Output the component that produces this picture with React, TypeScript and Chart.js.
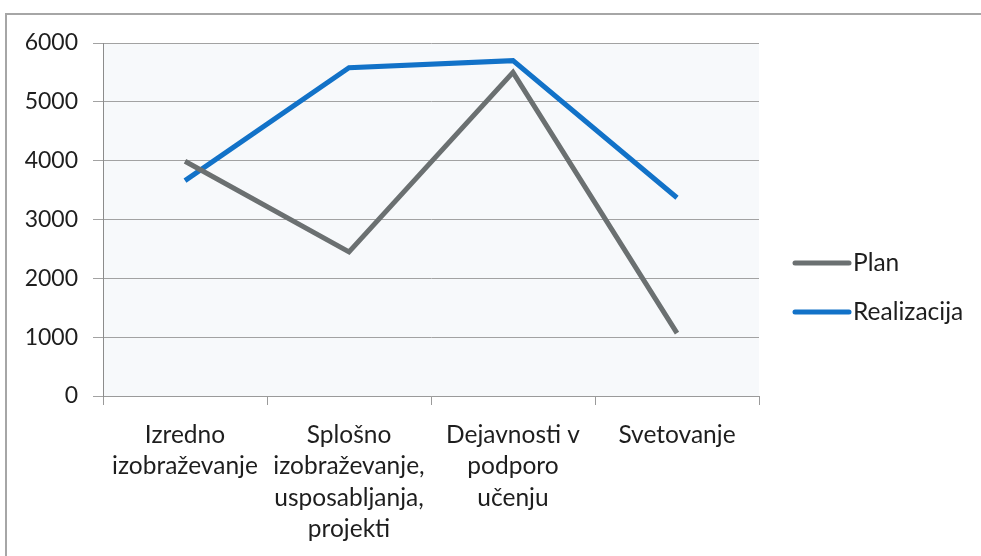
import React, { useEffect, useRef } from "react";
import { Chart, registerables } from "chart.js";

Chart.register(...registerables);

const categories: string[][] = [
  ["Izredno", "izobraževanje"],
  ["Splošno", "izobraževanje,", "usposabljanja,", "projekti"],
  ["Dejavnosti v", "podporo", "učenju"],
  ["Svetovanje"],
];
const planValues = [3990, 2450, 5500, 1070];
const realizacijaValues = [3660, 5580, 5700, 3370];
const yTicks = [0, 1000, 2000, 3000, 4000, 5000, 6000];

const FONT = "Lato";
const FONT_SIZE = 24.5;
const Y_FONT_SIZE = 23;
const TEXT = "#1e1e1e";

const legendPlugin = {
  id: "customLegend",
  afterDraw(chart: any) {
    const ctx = chart.ctx;
    const items = chart.data.datasets;
    const ys = [263, 312];
    ctx.save();
    items.forEach((ds: any, i: number) => {
      const y = ys[i];
      ctx.strokeStyle = ds.borderColor;
      ctx.lineWidth = 5;
      ctx.lineCap = "round";
      ctx.beginPath();
      ctx.moveTo(795, y);
      ctx.lineTo(849, y);
      ctx.stroke();
      ctx.fillStyle = TEXT;
      ctx.font = `${FONT_SIZE}px ${FONT}`;
      ctx.textBaseline = "middle";
      ctx.textAlign = "left";
      ctx.fillText(ds.label, 853, y);
    });
    ctx.restore();
  },
};

const plotBgPlugin = {
  id: "plotBg",
  beforeDraw(chart: any) {
    const { ctx, chartArea } = chart;
    ctx.save();
    ctx.fillStyle = "#f7f9fb";
    ctx.fillRect(chartArea.left, chartArea.top, chartArea.right - chartArea.left, chartArea.bottom - chartArea.top);
    ctx.restore();
  },
};

export default function App() {
  const ref = useRef<HTMLCanvasElement | null>(null);
  useEffect(() => {
    if (!ref.current) return;
    const chart = new Chart(ref.current, {
      type: "line",
      data: {
        labels: categories,
        datasets: [
          {
            label: "Plan",
            data: planValues,
            borderColor: "#6b7071",
            backgroundColor: "#6b7071",
            borderWidth: 5,
            pointRadius: 0,
            tension: 0,
          },
          {
            label: "Realizacija",
            data: realizacijaValues,
            borderColor: "#1272c8",
            backgroundColor: "#1272c8",
            borderWidth: 5,
            pointRadius: 0,
            tension: 0,
          },
        ],
      },
      options: {
        animation: false,
        responsive: true,
        maintainAspectRatio: false,
        layout: { padding: { top: 43, right: 222, left: 0, bottom: 0 } },
        plugins: {
          legend: { display: false },
          tooltip: { enabled: false },
        },
        scales: {
          x: {
            offset: true,
            grid: { offset: true, drawOnChartArea: false, tickLength: 9, color: "#9a9a9a" },
            border: { color: "#9a9a9a" },
            ticks: {
              color: TEXT,
              font: { family: FONT, size: FONT_SIZE, lineHeight: "31.5px" as any },
              padding: 14,
              maxRotation: 0,
              autoSkip: false,
            },
            afterFit(scale: any) {
              scale.height = 160;
            },
          },
          y: {
            min: 0,
            max: 6000,
            afterBuildTicks(scale: any) {
              scale.ticks = yTicks.map((v) => ({ value: v }));
            },
            grid: { color: "#a2a2a2", tickLength: 10 },
            border: { color: "#8c8c8c" },
            ticks: {
              color: TEXT,
              font: { family: FONT, size: Y_FONT_SIZE },
              padding: 15,
              callback: (v: any) => String(v),
            },
            afterFit(scale: any) {
              scale.width = 103;
            },
          },
        },
      },
      plugins: [plotBgPlugin, legendPlugin],
    });
    return () => chart.destroy();
  }, []);
  return (
    <div style={{ position: "fixed", left: 0, top: 0, width: 981, height: 556, background: "#fff" }}>
      <div
        style={{
          position: "absolute",
          left: 5,
          top: 13,
          width: 1000,
          height: 600,
          borderTop: "2px solid #a6a6a6",
          borderLeft: "2px solid #a6a6a6",
        }}
      />
      <div style={{ position: "absolute", left: 0, top: 0, width: 981, height: 556 }}>
        <canvas ref={ref} />
      </div>
    </div>
  );
}
